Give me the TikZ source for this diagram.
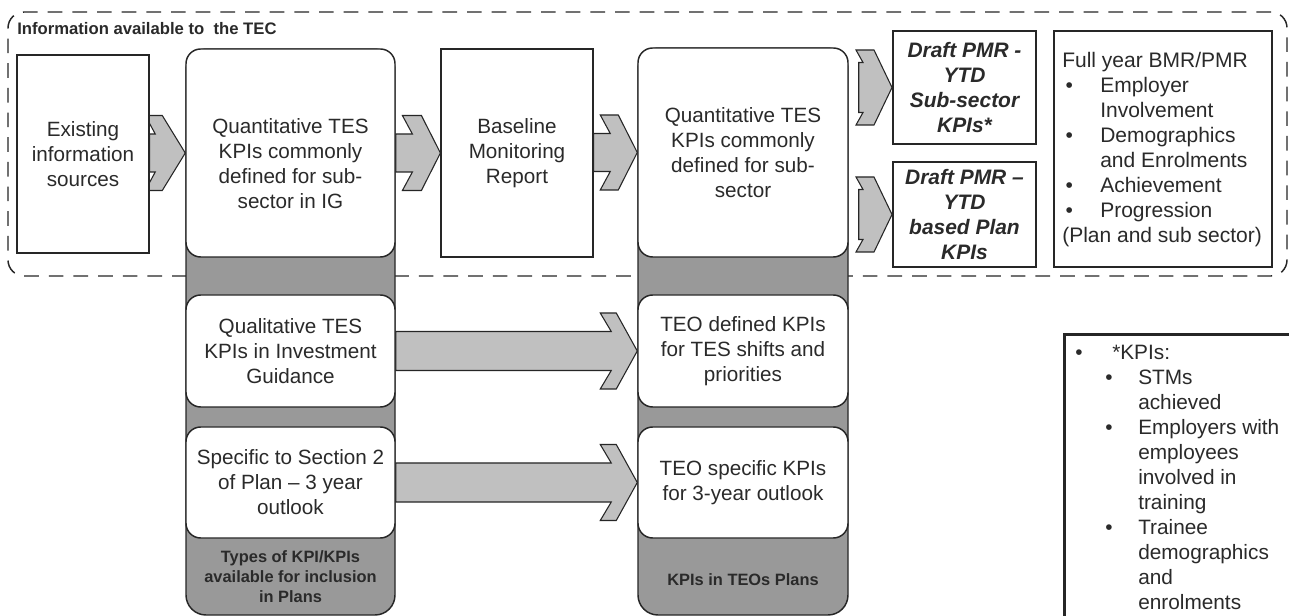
\documentclass[tikz,border=0pt]{standalone}
\usepackage{fontspec}
\setmainfont{Liberation Sans}
\usetikzlibrary{calc}
\newcommand\pxu{0.75pt}
\definecolor{colgray}{HTML}{999999}
\definecolor{arrgray}{HTML}{C0C0C0}
\definecolor{txtgray}{HTML}{2A2A2A}
\pgfdeclarelayer{bglayer}
\pgfdeclarelayer{arrlayer}
\pgfsetlayers{bglayer,arrlayer,main}
\newcommand\fullbul{\makebox[28.5pt][l]{\hspace{2.5pt}\textbullet}}
\newcommand\fullind{\hspace*{28.5pt}}
\newcommand\kone{\makebox[27.75pt][l]{\textbullet}}
\newcommand\ktwo{\hspace*{22.5pt}\makebox[24.75pt][l]{\textbullet}}
\newcommand\kind{\hspace*{47.25pt}}
% #1 from, #2 to, #3 tail gap, #4 head length, #5 notch, #6 head top, #7 shaft half, #8 head half
\newcommand\blockarrow[8]{%
  \path[arrowshape] let \p1=(#1.east), \p2=(#2.west) in
  (\x1+#3*\pxu, \y2+#7*\pxu) -- (\x2-#4*\pxu+#5*\pxu, \y2+#7*\pxu)
  -- (\x2-#4*\pxu, \y2+#8*\pxu) -- (\x2-#4*\pxu+#6*\pxu, \y2+#8*\pxu)
  -- (\x2,\y2) -- (\x2-#4*\pxu+#6*\pxu, \y2-#8*\pxu)
  -- (\x2-#4*\pxu, \y2-#8*\pxu) -- (\x2-#4*\pxu+#5*\pxu, \y2-#7*\pxu)
  -- (\x1+#3*\pxu, \y2-#7*\pxu) -- cycle;}
\tikzset{
  reg/.style={font=\fontsize{15.5}{18.75}\selectfont, text=txtgray, align=center},
  colbox/.style={draw=black!85, line width=1.1pt, fill=colgray, rounded corners=15pt, inner sep=0pt},
  roundbox/.style={draw=black!85, line width=1.1pt, fill=white, rounded corners=11pt, inner sep=0pt, reg},
  sqbox/.style={draw=black!85, line width=0.9pt, fill=white, inner sep=0pt, reg},
  draftbox/.style={draw=black!85, line width=1.5pt, fill=white, inner sep=0pt,
    font=\fontsize{15.7}{18.75}\selectfont\bfseries\itshape, text=txtgray, align=center},
  arrowshape/.style={draw=black!85, line width=0.8pt, fill=arrgray, line join=miter},
  collabel/.style={font=\fontsize{12.3}{15}\selectfont\bfseries, text=txtgray, align=center},
  region/.style={draw=black!85, line width=1.1pt, dash pattern=on 11pt off 7.5pt, rounded corners=12pt, inner sep=0pt},
}
\begin{document}
\begin{tikzpicture}[x=0.75pt,y=-0.75pt]
\useasboundingbox (0,0) rectangle (1289,616);

% region
\begin{pgfonlayer}{bglayer}
\fill[white] (0,0) rectangle (1289,616);
\node[region, minimum width=1279*\pxu, minimum height=264*\pxu] (tec) at (647.5,144) {};
\end{pgfonlayer}
\node[font=\fontsize{12.5}{15}\selectfont\bfseries, text=txtgray, anchor=base west, inner sep=0pt] (tectitle) at (17,35) {Information available to~ the TEC};

% columns
\node[colbox, minimum width=209*\pxu, minimum height=566*\pxu] (lcol) at (290.5,332) {};
\node[colbox, minimum width=210*\pxu, minimum height=567*\pxu] (rcol) at (743,331.5) {};

% left column boxes
\node[roundbox, minimum width=209*\pxu, minimum height=208*\pxu] (qig) at (290.5,153) {};
\node[reg] (qigtext) at (290.5,164) {Quantitative TES\\KPIs commonly\\defined for sub-\\sector in IG};
\node[roundbox, minimum width=209*\pxu, minimum height=112*\pxu] (qual) at (290.5,351) {Qualitative TES\\KPIs in Investment\\Guidance};
\node[roundbox, minimum width=209*\pxu, minimum height=111*\pxu] (spec) at (290.5,482.5) {Specific to Section 2\\of Plan -- 3 year\\outlook};
\node[collabel] (llabel) at (290.5,577) {Types of KPI/KPIs\\available for inclusion\\in Plans};

% right column boxes
\node[roundbox, minimum width=210*\pxu, minimum height=209*\pxu] (qsub) at (743,152.5) {Quantitative TES\\KPIs commonly\\defined for sub-\\sector};
\node[roundbox, minimum width=210*\pxu, minimum height=112*\pxu] (teodef) at (743,351) {TEO defined KPIs\\for TES shifts and\\priorities};
\node[roundbox, minimum width=210*\pxu, minimum height=111*\pxu] (teospec) at (743,482.5) {TEO specific KPIs\\for 3-year outlook};
\node[collabel] (rlabel) at (743,580) {KPIs in TEOs Plans};

% plain boxes
\node[sqbox, minimum width=132*\pxu, minimum height=198*\pxu] (exist) at (83,154) {Existing\\information\\sources};
\node[sqbox, minimum width=152*\pxu, minimum height=208*\pxu] (bmr) at (517,153) {Baseline\\Monitoring\\Report};
\node[draftbox, minimum width=143*\pxu, minimum height=113*\pxu] (draftA) at (964.5,87.5) {Draft PMR -\\YTD\\Sub-sector\\KPIs*};
\node[draftbox, minimum width=143*\pxu, minimum height=105*\pxu] (draftB) at (964.5,214.5) {Draft PMR --\\YTD\\based Plan\\KPIs};
\node[draw=black!85, line width=1.5pt, fill=white, minimum width=218*\pxu, minimum height=236*\pxu, inner sep=0pt] (full) at (1163,149) {};
\node[font=\fontsize{15.75}{18.75}\selectfont, text=txtgray, align=left, anchor=north west, inner sep=0pt] (fulltext) at (1062,52)
  {Full year BMR/PMR\\\fullbul Employer\\\fullind Involvement\\\fullbul Demographics\\\fullind and Enrolments\\\fullbul Achievement\\\fullbul Progression\\(Plan and sub sector)};

% KPI note box
\node[draw=black!85, line width=2pt, fill=white, minimum width=240*\pxu, minimum height=300*\pxu, inner sep=0pt, anchor=north west] (kpibox) at (1063,333) {};
\node[font=\fontsize{15.6}{18.75}\selectfont, text=txtgray, align=left, anchor=north west, inner sep=0pt] (kpitext) at (1075,345)
  {\kone*KPIs:\\\ktwo STMs\\\kind achieved\\\ktwo Employers with\\\kind employees\\\kind involved in\\\kind training\\\ktwo Trainee\\\kind demographics\\\kind and\\\kind enrolments};

% block arrows
\begin{pgfonlayer}{arrlayer}
\blockarrow{exist}{qig}{0}{40}{10}{17}{19}{37.5}
\blockarrow{qig}{bmr}{0}{38}{10}{19}{19}{37.5}
\blockarrow{bmr}{qsub}{0}{37}{10}{18}{19}{37.5}
\blockarrow{qual}{teodef}{0}{37}{11}{16}{19.5}{38}
\blockarrow{spec}{teospec}{0}{37}{11}{16}{19.5}{38}
\blockarrow{qsub}{draftA}{10}{36}{7}{18}{25}{37.5}
\blockarrow{qsub}{draftB}{10}{36}{7}{18}{25}{37.5}
\end{pgfonlayer}
\end{tikzpicture}
\end{document}
